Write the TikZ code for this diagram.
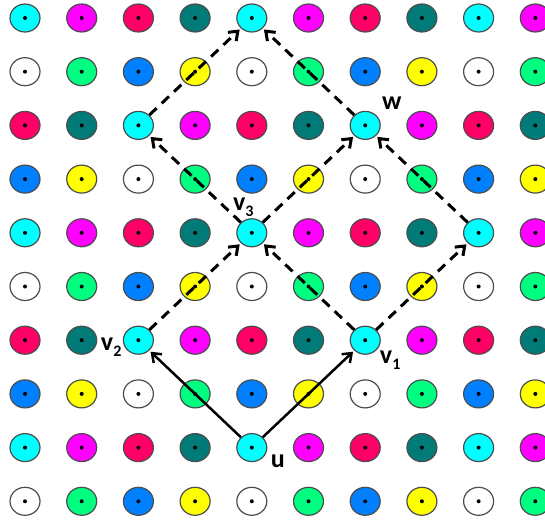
\documentclass[tikz,border=0pt]{standalone}
\usepackage{fontspec}
\setmainfont{Carlito}
\usetikzlibrary{arrows.meta,shapes.geometric}
\definecolor{dot0}{HTML}{00FFFF}
\definecolor{dot1}{HTML}{FF00FF}
\definecolor{dot2}{HTML}{FF0066}
\definecolor{dot3}{HTML}{007B78}
\definecolor{dot4}{HTML}{FFFFFF}
\definecolor{dot5}{HTML}{00FF80}
\definecolor{dot6}{HTML}{0080FF}
\definecolor{dot7}{HTML}{FFFF00}
\newcommand{\vlab}[1]{v\raisebox{-0.45ex}{\fontsize{8}{8}\selectfont #1}}

\begin{document}
\begin{tikzpicture}[x=28.35pt,y=-26.85pt,
          every node/.style={font=\bfseries\fontsize{13}{15}\selectfont,inner sep=0pt},
          dot/.style={ellipse,draw=black!70,line width=0.6pt,
            minimum width=15pt,minimum height=14pt},
          ar/.style={-{Straight Barb[length=4pt,width=6pt]},line width=1.25pt,
            shorten >=0.8pt},
          dar/.style={ar,line width=1.5pt,dash pattern=on 5pt off 3.5pt}]
        \useasboundingbox (-0.441,-0.335) rectangle (9.171,9.385);
        % lattice of coloured points
        \foreach \j in {0,...,9}
          \foreach \i in {0,...,9}{
            \pgfmathtruncatemacro\k{mod(\i+2*(mod(\j,4)>1),4)+4*mod(\j,2)}
            \node[dot,fill=dot\k] (n-\i-\j) at (\i,\j) {};
            \fill (n-\i-\j.center) circle[radius=1pt];
          }
        % labels
        \node (lu)  at (4.46,8.25) {u};
        \node (lv1) at (6.44,6.37) {\vlab{1}};
        \node (lv2) at (1.52,6.13) {\vlab{2}};
        \node (lv3) at (3.85,3.52) {\vlab{3}};
        \node (lw)  at (6.47,1.58) {w};
        % paths
        \draw[ar](n-4-8)--(n-2-6); \draw[ar](n-4-8)--(n-6-6);
        \draw[dar](n-2-6)--(n-4-4); \draw[dar](n-6-6)--(n-4-4);
        \draw[dar](n-6-6)--(n-8-4);
        \draw[dar](n-4-4)--(n-2-2); \draw[dar](n-4-4)--(n-6-2);
        \draw[dar](n-8-4)--(n-6-2);
        \draw[dar](n-2-2)--(n-4-0); \draw[dar](n-6-2)--(n-4-0);
      \end{tikzpicture}
\end{document}
